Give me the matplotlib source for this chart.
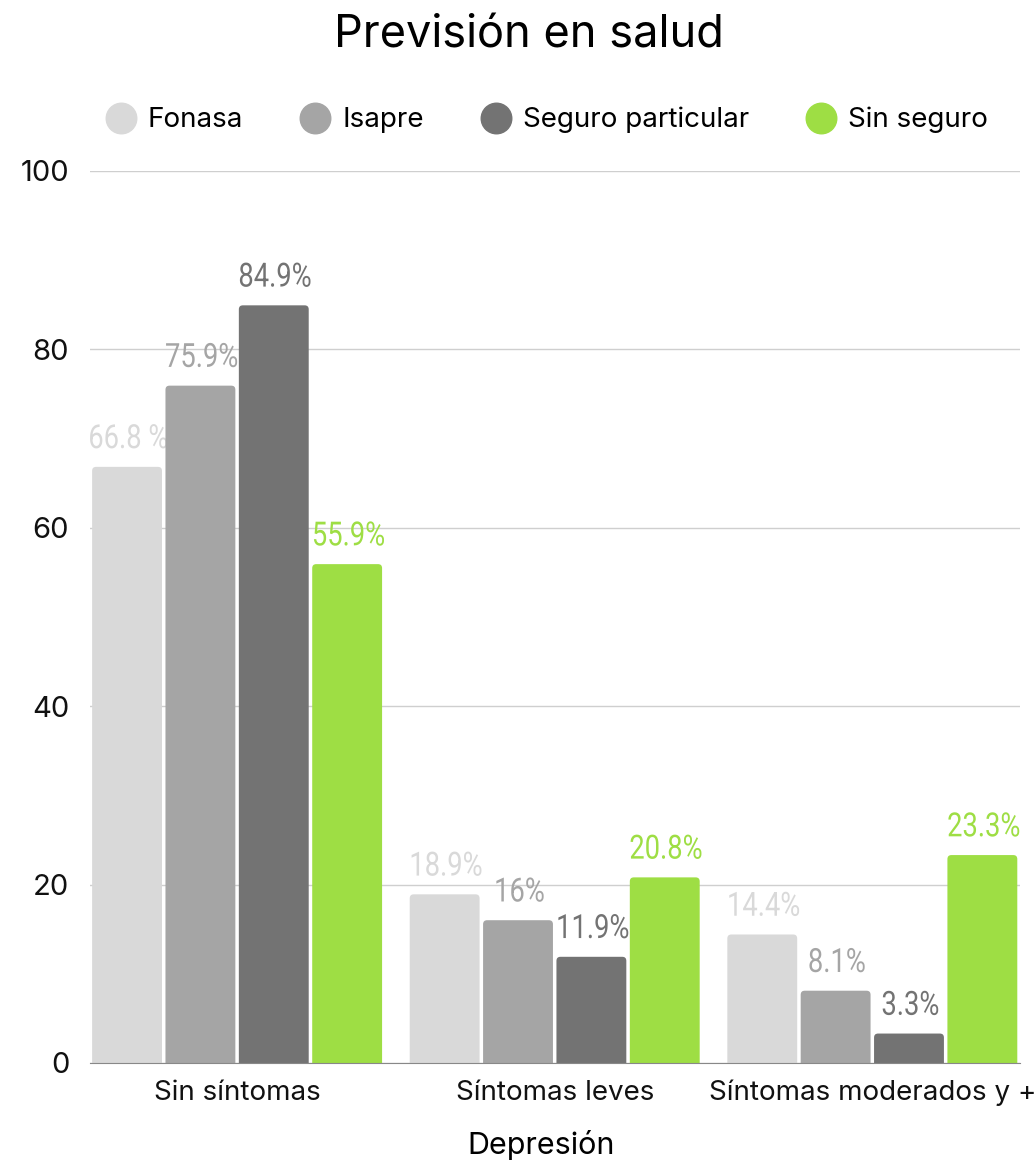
import matplotlib
matplotlib.use("Agg")
import matplotlib.pyplot as plt
import numpy as np
from matplotlib.lines import Line2D
from matplotlib.patches import FancyBboxPatch
from matplotlib.patheffects import AbstractPathEffect
from matplotlib.transforms import Affine2D

# datos
categorias = ["Sin síntomas", "Síntomas leves", "Síntomas moderados y +"]
series = ["Fonasa", "Isapre", "Seguro particular", "Sin seguro"]
fonasa = [66.8, 18.9, 14.4]
isapre = [75.9, 16, 8.1]
particular = [84.9, 11.9, 3.3]
sin_seguro = [55.9, 20.8, 23.3]
etiquetas = [
    ["66.8 %", "18.9%", "14.4%"],
    ["75.9%", "16%", "8.1%"],
    ["84.9%", "11.9%", "3.3%"],
    ["55.9%", "20.8%", "23.3%"],
]
colores = ["#d9d9d9", "#a5a5a5", "#737373", "#9ede44"]


class Angosto(AbstractPathEffect):
    # comprime el texto en horizontal (letra condensada)
    def __init__(self, sx):
        super().__init__()
        self.sx = sx

    def draw_path(self, renderer, gc, tpath, affine, rgbFace=None):
        ext = tpath.get_extents(affine)
        cx = (ext.x0 + ext.x1) / 2
        t = affine + Affine2D().translate(-cx, 0).scale(self.sx, 1).translate(cx, 0)
        renderer.draw_path(gc, tpath, t, rgbFace)


plt.rcParams['font.family'] = ['Inter', 'DejaVu Sans']

fig = plt.figure(figsize=(10.35, 11.62), dpi=100)
ax = fig.add_axes([0.087, 0.0852, 0.8985, 0.768])

x = np.arange(len(categorias))
paso = 0.231
ancho = 0.22
valores = [fonasa, isapre, particular, sin_seguro]

ax.set_xlim(-0.463, 2.465)
ax.set_ylim(0, 100)

# px por unidad en x e y para redondear esquinas
px_x = 930 / (2.465 + 0.463)
px_y = 892 / 100
radio = 4 / px_x

for i, (vals, col) in enumerate(zip(valores, colores)):
    pos = x + (i - 1.5) * paso
    barras = ax.bar(pos, vals, width=ancho, color=col, label=series[i], zorder=3)
    for b, txt in zip(barras, etiquetas[i]):
        b.set_visible(False)
        p = FancyBboxPatch((b.get_x(), -3), b.get_width(), b.get_height() + 3,
                           boxstyle=f"round,pad=0,rounding_size={radio}",
                           mutation_aspect=px_x / px_y, facecolor=col,
                           edgecolor="none", zorder=3)
        ax.add_patch(p)
        ax.annotate(txt, (b.get_x() + b.get_width() / 2, b.get_height()),
                    xytext=(1, 13.5), textcoords="offset points",
                    ha="center", va="baseline", fontsize=24, color=col,
                    family=['Roboto', 'DejaVu Sans'],
                    path_effects=[Angosto(0.82)])

ax.set_yticks([0, 20, 40, 60, 80, 100])
ax.yaxis.grid(True, color="#cfcfcf", linewidth=1, zorder=0)
ax.set_axisbelow(True)
for s in ["top", "right", "left"]:
    ax.spines[s].set_visible(False)
ax.spines["bottom"].set_color("#888888")
ax.spines["bottom"].set_zorder(4)
ax.tick_params(axis="both", length=0, colors="#111111")
ax.tick_params(axis="y", pad=15, labelsize=21)
ax.tick_params(axis="x", pad=12, labelsize=20)
ax.set_xticks(x)
ax.set_xticklabels(categorias)
ax.set_xlabel("Depresión", fontsize=22, va="top")
ax.xaxis.set_label_coords(0.485, -0.075)

fig.text(0.5106, 1 - 47 / 1162, "Previsión en salud", fontsize=32.5,
         ha="center", va="baseline")

handles = [Line2D([0], [0], marker="o", linestyle="", markersize=22,
                  markerfacecolor=c, markeredgecolor=c) for c in colores]
fig.legend(handles, series, loc="center", bbox_to_anchor=(0.529, 0.8967),
           ncol=4, frameon=False, fontsize=20, handlelength=1.0,
           handletextpad=0.47, columnspacing=2.1)

fig.savefig("out.png", dpi=100)
